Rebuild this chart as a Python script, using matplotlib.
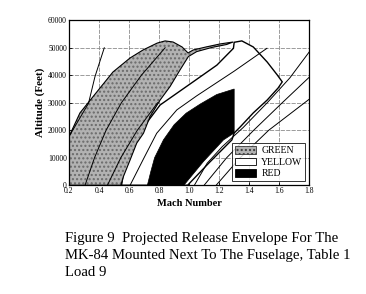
import matplotlib
matplotlib.use("Agg")
import matplotlib.pyplot as plt
from matplotlib.patches import Polygon, Patch

plt.rcParams['font.family'] = ['Liberation Serif', 'DejaVu Serif']

# green envelope: upper edge then lower edge back down to the axis
green_mach = [0.2, 0.273, 0.407, 0.493, 0.607, 0.693, 0.787, 0.84, 0.893, 0.953, 0.993,
              1.027, 1.113, 1.207, 1.293, 1.25, 1.15, 1.05, 0.995, 0.94, 0.873, 0.807,
              0.74, 0.696, 0.651, 0.607, 0.562, 0.545, 0.2]
green_alt = [17700, 26300, 35400, 41200, 46300, 49200, 51700, 52500, 52100, 50300, 48100,
             49200, 50300, 51400, 52100, 51200, 50100, 48600, 46800, 42000, 35900, 31000,
             25000, 18900, 15300, 9200, 3100, 0, 0]

# yellow envelope outline
yellow_mach = [0.55, 0.58, 0.68, 0.807, 1.029, 1.185, 1.295, 1.30, 1.351, 1.427, 1.52,
               1.587, 1.62, 1.593, 1.52, 1.427, 1.34, 1.30, 1.285, 1.13, 0.99]
yellow_alt = [0, 10000, 20000, 29200, 37700, 43700, 49800, 52000, 52500, 50300, 44800,
              40100, 37600, 35400, 31000, 26300, 21200, 19000, 16500, 8000, 0]

# red envelope
red_mach = [0.722, 0.745, 0.77, 0.829, 0.9, 0.98, 1.073, 1.184, 1.3, 1.3, 1.229, 1.095, 0.965]
red_alt = [0, 5000, 10000, 16500, 22000, 26200, 29500, 33000, 35000, 19000, 16500, 8600, 0]

# thin reference lines
lines = {
    'L1': ([0.2, 0.33, 0.373, 0.435], [17700, 29800, 39500, 50000]),
    'L2': ([0.307, 0.37, 0.447, 0.549, 0.682, 0.84], [0, 10000, 20000, 30000, 40000, 50000]),
    'L3': ([0.456, 0.545, 0.655, 0.79], [0, 10000, 20000, 30000]),
    'D': ([0.607, 0.70, 0.784, 0.918, 1.05, 1.3, 1.518], [0, 10000, 18900, 27400, 32500, 41500, 49800]),
    'A': ([1.035, 1.12, 1.22, 1.36, 1.52, 1.67, 1.8], [0, 8000, 14000, 21000, 30000, 39000, 48500]),
    'B': ([1.10, 1.25, 1.43, 1.62, 1.8], [0, 10000, 20000, 30000, 39300]),
    'C': ([1.18, 1.34, 1.53, 1.8], [0, 10000, 20000, 31300]),
}

mach_ticks = [0.2, 0.4, 0.6, 0.8, 1.0, 1.2, 1.4, 1.6, 1.8]
alt_ticks = [0, 10000, 20000, 30000, 40000, 50000, 60000]

fig = plt.figure(figsize=(3.66, 2.94), dpi=100)
ax = fig.add_axes([0.1885, 0.370, 0.6565, 0.561])

ax.add_patch(Polygon(list(zip(yellow_mach, yellow_alt)), closed=True, facecolor='white',
                     edgecolor='black', lw=1.0, zorder=2))
green_pts = list(zip(green_mach, green_alt))
# stippled fill, then a black outline on top
ax.add_patch(Polygon(green_pts, closed=True, facecolor='#b2b2b2', edgecolor='#6a6a6a',
                     lw=0, hatch='....', zorder=3))
ax.add_patch(Polygon(green_pts, closed=True, fill=False, edgecolor='black', lw=0.8, zorder=3))
ax.add_patch(Polygon(list(zip(red_mach, red_alt)), closed=True, facecolor='black',
                     edgecolor='black', lw=0.5, zorder=4))

for name, (m, a) in lines.items():
    ax.plot(m, a, color='black', lw=0.7, zorder=5)

ax.set_xlim(0.2, 1.8)
ax.set_ylim(0, 60000)
ax.set_xticks(mach_ticks)
ax.set_xticklabels(['%.1f' % v for v in mach_ticks])
ax.set_yticks(alt_ticks)
ax.tick_params(labelsize=5.5, length=2, width=0.6, direction='in', pad=1.5)
ax.grid(True, color='#8c8c8c', lw=0.6, ls=(0, (5, 1.5)), zorder=1)
for s in ax.spines.values():
    s.set_linewidth(0.9)
    s.set_zorder(6)

ax.set_xlabel('Mach Number', fontsize=7.5, fontweight='bold', labelpad=3)
ax.set_ylabel('Altitude (Feet)', fontsize=8, fontweight='bold', labelpad=2)

handles = [Patch(facecolor='#b2b2b2', edgecolor='#3a3a3a', hatch='....', lw=0.6, label='GREEN'),
           Patch(facecolor='white', edgecolor='black', lw=0.6, label='YELLOW'),
           Patch(facecolor='black', edgecolor='black', lw=0.6, label='RED')]
leg = ax.legend(handles=handles, loc='lower right', fontsize=7, frameon=True, fancybox=False,
                edgecolor='black', borderaxespad=0.4, handlelength=2.2, handleheight=0.8,
                labelspacing=0.25, borderpad=0.3, handletextpad=0.5)
leg.get_frame().set_linewidth(0.7)
leg.set_zorder(7)

fig.text(0.178, 0.21, 'Figure 9  Projected Release Envelope For The\n'
         'MK-84 Mounted Next To The Fuselage, Table 1\nLoad 9',
         fontsize=10.6, va='top', ha='left', linespacing=1.4)

fig.savefig('out.png', dpi=100)
